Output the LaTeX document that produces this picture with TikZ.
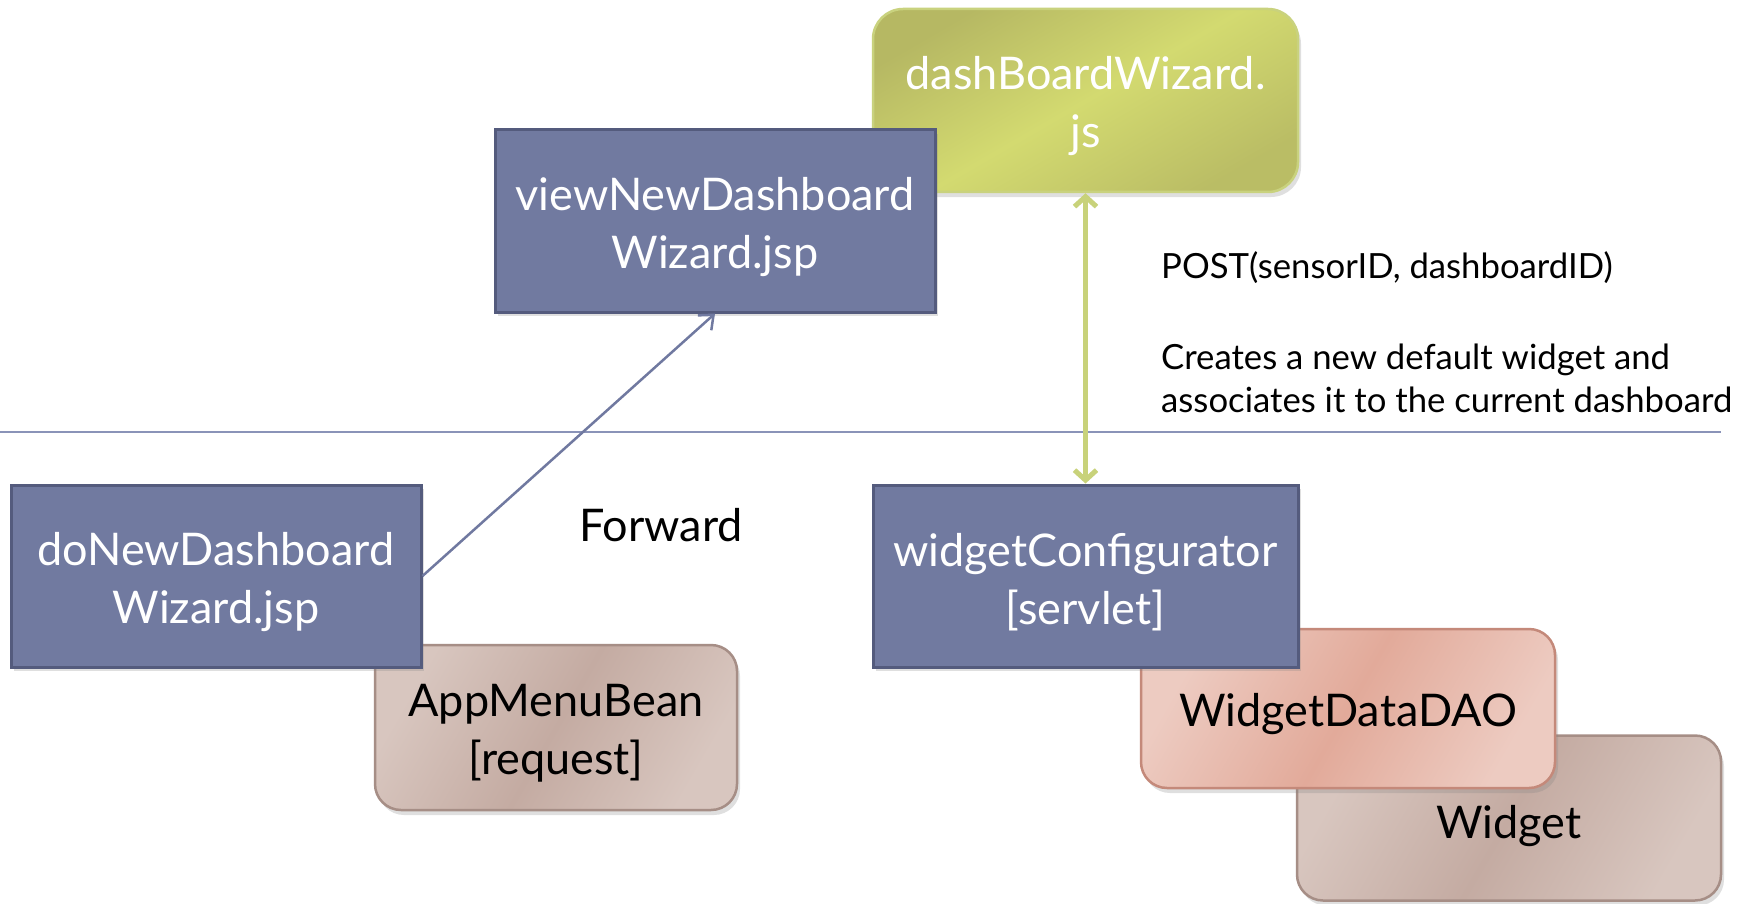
\documentclass[tikz,border=0pt]{standalone}
\usepackage{fontspec}
\setmainfont{Lato}
\usetikzlibrary{arrows.meta,shadows}
\begin{document}
\definecolor{bluefill}{HTML}{717AA0}
\definecolor{blueedge}{HTML}{545B7D}
\definecolor{greenA}{HTML}{B6B863}
\definecolor{greenB}{HTML}{D3DA70}
\definecolor{greenedge}{HTML}{C9D27E}
\definecolor{beanA}{HTML}{C4ABA2}
\definecolor{beanB}{HTML}{D8C6BF}
\definecolor{beanedge}{HTML}{A68E86}
\definecolor{daoA}{HTML}{E2AA9A}
\definecolor{daoB}{HTML}{EDCBC1}
\definecolor{daoedge}{HTML}{C4897A}
\definecolor{sepline}{HTML}{8A93B8}
\definecolor{arrowblue}{HTML}{7079A0}
\definecolor{arrowgreen}{HTML}{C8D27A}
\tikzset{
  boxbase/.style={rectangle, inner sep=0pt},
  btext/.style={font=\fontsize{45}{58}\selectfont, align=center, inner sep=0pt},
  wtext/.style={btext, text=white},
  ktext/.style={btext, text=black},
  bluebox/.style={boxbase, fill=bluefill, draw=blueedge, line width=3pt,
    drop shadow={shadow xshift=3pt, shadow yshift=-4pt, opacity=0.25}},
  greenbox/.style={boxbase, rounded corners=30pt, draw=greenedge, line width=2.5pt,
    left color=greenA, right color=greenA!85!greenB, middle color=greenB, shading angle=30,
    drop shadow={shadow xshift=3pt, shadow yshift=-5pt, opacity=0.25}},
  beanbox/.style={boxbase, rounded corners=26pt, draw=beanedge, line width=2.5pt,
    left color=beanB, right color=beanB, middle color=beanA, shading angle=60,
    drop shadow={shadow xshift=3pt, shadow yshift=-5pt, opacity=0.25}},
  daobox/.style={boxbase, rounded corners=26pt, draw=daoedge, line width=2.5pt,
    left color=daoB, right color=daoB, middle color=daoA, shading angle=60,
    drop shadow={shadow xshift=3pt, shadow yshift=-5pt, opacity=0.25}},
  plaintext/.style={font=\fontsize{34.7}{43}\selectfont, align=left, inner sep=0pt, text=black},
  fwdarrow/.style={draw=arrowblue, line width=2.5pt, -{Straight Barb[length=12pt,width=20pt]}},
  dblarrow/.style={draw=arrowgreen, line width=5pt, {Straight Barb[length=10pt,width=22pt]}-{Straight Barb[length=10pt,width=22pt]}},
}
\begin{tikzpicture}[x=1pt,y=-1pt]
\useasboundingbox[fill=white] (0,0) rectangle (1752,904);
% separator line
\coordinate (sepL) at (0,432);
\coordinate (sepR) at (1721,432);
\draw[sepline, line width=1.8pt] (sepL) -- (sepR);
% boxes
\node[greenbox, minimum width=425pt, minimum height=183pt] (dash) at (1085.5,100.5) {};
\node[wtext] (dashT) at ([yshift=-6pt]dash.center) {dashBoardWizard.\\js};
\node[bluebox, minimum width=440pt, minimum height=182pt] (view) at (715,221) {};
\node[wtext] (viewT) at ([yshift=-6pt]view.center) {viewNewDashboard\\Wizard.jsp};
\node[beanbox, minimum width=362pt, minimum height=165pt] (app) at (556,727.5) {};
\node[ktext] (appT) at ([yshift=-6pt]app.center) {AppMenuBean\\{[request]}};
\node[bluebox, minimum width=410pt, minimum height=182pt] (doNew) at (216,576) {};
\node[wtext] (doNewT) at ([yshift=-6pt]doNew.center) {doNewDashboard\\Wizard.jsp};
\node[beanbox, minimum width=424pt, minimum height=165pt] (widget) at (1509,818) {};
\node[ktext] (widgetT) at ([yshift=-8pt]widget.center) {Widget};
\node[daobox, minimum width=414pt, minimum height=159pt] (dao) at (1348,708.5) {};
\node[ktext] (daoT) at ([yshift=-6pt]dao.center) {WidgetDataDAO};
\node[bluebox, minimum width=425pt, minimum height=182pt] (wc) at (1085.5,576) {};
\node[wtext] (wcT) at ([yshift=-6pt]wc.center) {widgetConfigurator\\{[servlet]}};
% labels
\node[font=\fontsize{45}{52}\selectfont, inner sep=0pt] (fwd) at (661,525) {Forward};
\node[plaintext, anchor=west] (post) at (1161,268) {POST(sensorID, dashboardID)};
\node[plaintext, anchor=west] (creates) at (1161,378) {Creates a new default widget and\\associates it to the current dashboard};
% connectors
\draw[fwdarrow] (doNew.east) -- (view.south);
\draw[dblarrow] (dash.south) -- (wc.north);
\end{tikzpicture}
\end{document}
